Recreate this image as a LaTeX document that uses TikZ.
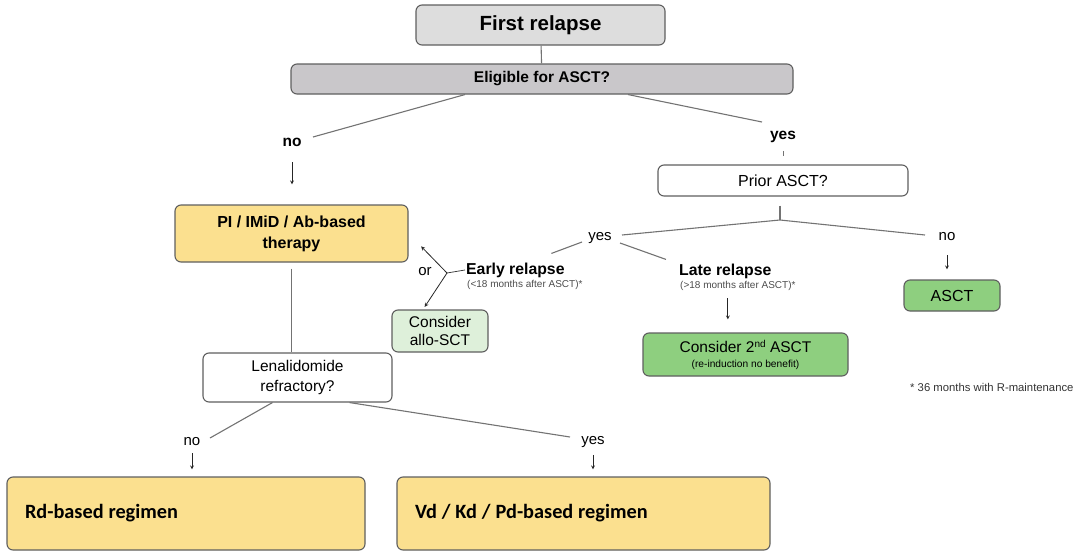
\documentclass[tikz,border=0pt]{standalone}
\usepackage{fontspec}
\setmainfont{Liberation Sans}
\newfontfamily\regimenfont{Carlito}
\usepackage{xcolor}
\usetikzlibrary{arrows,positioning}

\definecolor{boxgray}{RGB}{221,221,221}
\definecolor{askgray}{RGB}{201,199,202}
\definecolor{therapyyellow}{RGB}{251,224,143}
\definecolor{sctgreen}{RGB}{142,207,127}
\definecolor{allogreen}{RGB}{222,240,218}
\definecolor{edgegray}{RGB}{95,95,95}
\newcommand{\narrowspaces}{\spaceskip=0.24em\relax}

\begin{document}
\begin{tikzpicture}[
    x=1pt, y=-1pt,
    box/.style={rectangle, draw=edgegray, line width=1.1pt, rounded corners=6pt, align=center, inner sep=2pt, font=\fontsize{16}{19}\selectfont},
    regimen/.style={box, minimum height=73pt, inner xsep=18pt, align=left, font=\regimenfont\bfseries\fontsize{20.3}{24}\selectfont},
    lbl/.style={inner sep=1pt, font=\fontsize{15}{17}\selectfont},
    info/.style={inner sep=0pt, text=black!70, font=\fontsize{10}{12}\selectfont},
    link/.style={draw=black!55, line width=1.1pt},
    arrow/.style={->, >=stealth, draw=black!85, line width=0.8pt}
]
    \useasboundingbox (0,0) rectangle (1080,555);

    \node[box, fill=boxgray, minimum width=249pt, minimum height=40pt, font=\bfseries\fontsize{20.5}{24}\selectfont] (first) at (540.5,25) {First relapse};
    \node[box, fill=askgray, minimum width=502pt, minimum height=30pt, font=\bfseries\fontsize{15.5}{18}\selectfont] (elig) at (542,79) {Eligible for ASCT?};

    \node[lbl, font=\bfseries\fontsize{15.5}{18}\selectfont] (no1) at (292,142) {no};
    \node[lbl, font=\bfseries\fontsize{15.5}{18}\selectfont] (yes1) at (783,137) {yes};

    \node[box, fill=therapyyellow, minimum width=233pt, minimum height=57pt, font=\bfseries\fontsize{16}{21}\selectfont] (pi) at (291.5,233.5) {PI / IMiD / Ab-based\\therapy};
    \node[box, fill=white, minimum width=250pt, minimum height=31pt] (prior) at (783,180.5) {Prior ASCT?};
    \coordinate (fork) at (780,220);

    \node[lbl] (yes2) at (600,238) {yes};
    \node[lbl] (no2) at (947,237) {no};
    \node[box, fill=sctgreen, minimum width=96pt, minimum height=31pt, font=\fontsize{16}{19}\selectfont] (asct) at (952,295.5) {ASCT};

    \node[lbl, anchor=west, font=\bfseries\fontsize{15.8}{18}\selectfont] (early) at (465,270) {Early relapse};
    \node[info, below=1pt of early.south west, anchor=north west, xshift=2pt] (earlyinfo) {(<18 months after ASCT)*};
    \node[lbl, anchor=west, font=\bfseries\fontsize{15.8}{18}\selectfont] (late) at (678,271) {Late relapse};
    \node[info, below=1pt of late.south west, anchor=north west, xshift=2pt] (lateinfo) {(>18 months after ASCT)*};

    \coordinate (vtx) at (447,273);
    \node[lbl] (or) at (425,272) {or};
    \node[box, fill=allogreen, minimum width=96pt, minimum height=42pt, font=\fontsize{15.5}{18.5}\selectfont] (allo) at (440,331) {Consider\\allo-SCT};
    \node[box, fill=sctgreen, minimum width=205pt, minimum height=43pt, text depth=2pt, font=\fontsize{15.5}{15}\selectfont] (cons2) at (745.5,354.5) {Consider 2{\fontsize{10}{10}\selectfont\raisebox{5pt}{nd}} ASCT\\{\fontsize{10.2}{12}\selectfont (re-induction no benefit)}};

    \node[box, fill=white, minimum width=189pt, minimum height=49pt, font=\fontsize{15.5}{20}\selectfont] (len) at (297.5,377.5) {Lenalidomide\\refractory?};
    \node[lbl] (no3) at (192,442) {no};
    \node[lbl] (yes3) at (593,442) {yes};

    \node[regimen, fill=therapyyellow, text width=322pt] (rd) at (186,513.5) {\narrowspaces Rd-based regimen};
    \node[regimen, fill=therapyyellow, text width=337pt] (vd) at (583.5,513.5) {\narrowspaces Vd / Kd / Pd-based regimen};

    \node[anchor=west, inner sep=0pt, text=black!80, font=\fontsize{11.3}{13}\selectfont] (note) at (910,387) {* 36 months with R-maintenance};

    \draw[link] (first) -- (elig);
    \draw[link] ([xshift=-77pt]elig.south) -- ([shift={(21,-5)}]no1.center);
    \draw[link] ([xshift=86pt]elig.south) -- ([shift={(-21,-15)}]yes1.center);
    \draw[arrow, shorten <=15pt, shorten >=20pt] (no1) -- (no1 |- pi.north);
    \draw[link, line width=0.8pt, shorten <=7pt, shorten >=8pt] (yes1) -- (yes1 |- prior.north);

    \draw[link] ([xshift=-3pt, yshift=-9pt]prior.south) -- (fork);
    \draw[link] (fork) -- ([shift={(22,-3)}]yes2.center);
    \draw[link] (fork) -- ([shift={(-22,-2)}]no2.center);
    \draw[link] ([shift={(-18,4)}]yes2.center) -- ([shift={(36,-8)}]early.north);
    \draw[link] ([shift={(20,5)}]yes2.center) -- ([shift={(-12,-3)}]late.north west);
    \draw[arrow, shorten <=13pt, shorten >=10pt] (no2) -- (no2 |- asct.north);

    \draw[link, draw=black!75, line width=0.8pt] (early.west) -- (vtx);
    \draw[arrow, shorten >=18pt] (vtx) -- (pi.east);
    \draw[arrow, shorten >=3pt] (vtx) -- ([xshift=-17pt]allo.north);
    \draw[arrow, shorten <=8pt, shorten >=13pt] ([xshift=-10pt]lateinfo.south) -- ([xshift=-10pt]lateinfo.south |- cons2.north);

    \draw[link, shorten <=6pt] (pi) -- (pi |- len.north);
    \draw[link] ([xshift=-25pt]len.south) -- ([shift={(18,-4)}]no3.center);
    \draw[link] ([xshift=52pt]len.south) -- ([shift={(-23,-5)}]yes3.center);
    \draw[arrow, shorten <=6pt, shorten >=7pt] (no3) -- (no3 |- rd.north);
    \draw[arrow, shorten <=6pt, shorten >=7pt] (yes3) -- (yes3 |- vd.north);
\end{tikzpicture}
\end{document}
